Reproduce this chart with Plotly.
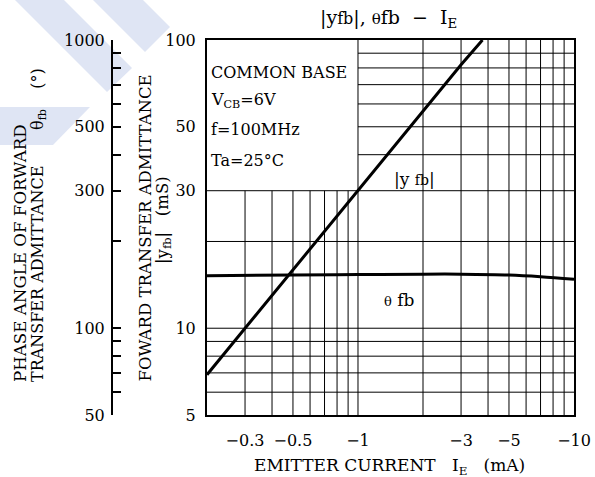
import plotly.graph_objects as go
import math

# ---- data ----
ie_yfb = [0.2, 0.3, 0.5, 1.0, 2.0, 3.0, 3.77]          # |IE| (mA)
yfb = [6.9, 10.0, 16.0, 30.0, 57.0, 82.0, 100.0]       # |yfb| (mS)

ie_theta = [0.2, 0.5, 1.0, 2.0, 3.0, 5.0, 7.0, 10.0]   # |IE| (mA)
theta = [152, 153, 153.5, 154, 154, 153, 151, 148]     # theta_fb (deg)

x_tickvals = [0.3, 0.5, 1, 3, 5, 10]
x_ticktext = ["−0.3", "−0.5", "−1", "−3", "−5", "−10"]
y_tickvals = [5, 10, 30, 50, 100]
y_ticktext = ["5", "10", "30", "50", "100"]
y2_tickvals = [50, 60, 70, 80, 90, 100, 200, 300, 400, 500, 600, 700, 800, 900, 1000]
y2_ticktext = ["50", "", "", "", "", "100", "", "300", "", "500", "", "", "", "", "1000"]

FONT = "DejaVu Serif"
W, H = 595, 477
L, R, T, B = 207, 574, 40, 415   # plot frame in pixels
PL = 0                            # paper left edge (margin l)


def fx(px):
    return (px - PL) / (R - PL)


def fy(py):
    return (B - py) / (B - T)


fig = go.Figure()
fig.add_trace(go.Scatter(x=ie_yfb, y=yfb, mode="lines",
                         line=dict(color="black", width=3), xaxis="x", yaxis="y",
                         showlegend=False, hoverinfo="skip"))
fig.add_trace(go.Scatter(x=ie_theta, y=theta, mode="lines", line_shape="spline",
                         line=dict(color="black", width=3), xaxis="x", yaxis="y2",
                         showlegend=False, hoverinfo="skip"))

shapes = []
# grid lines (text box region left free)
for xv in [0.3, 0.4, 0.5, 0.6, 0.7, 0.8, 0.9]:
    shapes.append(dict(type="line", xref="x", yref="y", x0=xv, x1=xv, y0=5, y1=30,
                       line=dict(color="black", width=1), layer="below"))
for xv in [1, 2, 3, 4, 5, 6, 7, 8, 9]:
    shapes.append(dict(type="line", xref="x", yref="y", x0=xv, x1=xv, y0=5, y1=100,
                       line=dict(color="black", width=1), layer="below"))
for yv in [6, 7, 8, 9, 10, 20, 30]:
    shapes.append(dict(type="line", xref="x", yref="y", x0=0.2, x1=10, y0=yv, y1=yv,
                       line=dict(color="black", width=1), layer="below"))
for yv in [40, 50, 60, 70, 80, 90]:
    shapes.append(dict(type="line", xref="x", yref="y", x0=1, x1=10, y0=yv, y1=yv,
                       line=dict(color="black", width=1), layer="below"))

# watermark stripes (light blue), pixel polygons converted to paper coords
wm = "#dfe5f4"
polys = [
    [(15, 0), (64, 0), (132, 68), (107, 92)],
    [(93, 0), (143, 0), (170, 27), (145, 52)],
    [(0, 107), (90, 107), (53, 145), (0, 145)],
]
for poly in polys:
    path = "M " + " L ".join(f"{fx(a):.4f},{fy(b):.4f}" for a, b in poly) + " Z"
    shapes.append(dict(type="path", xref="paper", yref="paper", path=path,
                       fillcolor=wm, line=dict(width=0), layer="below"))

ann = []


def add_text(text, px, py, size=17, xanchor="left", yanchor="middle", angle=0, align="left"):
    ann.append(dict(text=text, x=fx(px), y=fy(py), xref="paper", yref="paper",
                    showarrow=False, xanchor=xanchor, yanchor=yanchor, textangle=angle,
                    align=align, font=dict(family=FONT, size=size, color="black")))


add_text("COMMON BASE", 209, 73, size=16)
add_text("V<sub>CB</sub>=6V", 209, 100, size=16)
add_text("f=100MHz", 209, 129, size=16)
add_text("Ta=25°C", 209, 160, size=16)
add_text("|y <span style='font-size:14px'>fb</span>|", 392, 179, size=17)
add_text("<span style='font-size:13px'>θ</span> fb", 382, 300, size=17)
add_text("|y<span style='font-size:16px'>fb</span>|, <span style='font-size:15px'>θ</span>fb  −  I<sub>E</sub>",
         388, 18, size=19, xanchor="center")
add_text("EMITTER CURRENT   I<sub>E</sub>   (mA)", 389, 466, size=17, xanchor="center")
add_text("PHASE ANGLE OF FORWARD", 20, 384,
         size=16.7, xanchor="center", yanchor="bottom", angle=-90)
add_text("TRANSFER ADMITTANCE       θ<sub>fb</sub>    (°)", 38, 384,
         size=16, xanchor="center", yanchor="bottom", angle=-90)
add_text("FOWARD TRANSFER ADMITTANCE", 145, 384,
         size=16.5, xanchor="center", yanchor="bottom", angle=-90)
add_text("|y<sub>fb</sub>|   (mS)", 163, 220,
         size=16.5, xanchor="center", yanchor="middle", angle=-90)

fig.update_layout(
    width=W, height=H,
    margin=dict(l=PL, r=W - R, t=T, b=H - B, pad=0),
    paper_bgcolor="white", plot_bgcolor="white",
    font=dict(family=FONT, size=16, color="black"),
    shapes=shapes, annotations=ann, showlegend=False,
    xaxis=dict(type="log", range=[math.log10(0.2), 1], domain=[(L - PL) / (R - PL), 1],
               tickvals=x_tickvals, ticktext=x_ticktext,
               showgrid=False, zeroline=False, showline=True, mirror=True, linecolor="black",
               linewidth=2, ticks="", ticklabelstandoff=10, tickfont=dict(size=16)),
    yaxis=dict(type="log", range=[math.log10(5), 2], tickvals=y_tickvals, ticktext=y_ticktext,
               showgrid=False, zeroline=False, showline=True, mirror=True, linecolor="black",
               linewidth=2, ticks="", ticklabelstandoff=6, tickfont=dict(size=16)),
    yaxis2=dict(type="log", range=[math.log10(50), 3], tickvals=y2_tickvals, ticktext=y2_ticktext,
                overlaying="y", side="left", anchor="free", position=(112 - PL) / (R - PL),
                showgrid=False, zeroline=False, showline=True, linecolor="black", linewidth=2,
                ticks="inside", ticklen=8, tickwidth=1.5, tickcolor="black",
                ticklabelstandoff=3, tickfont=dict(size=16)),
)

fig.write_html("out.html")
